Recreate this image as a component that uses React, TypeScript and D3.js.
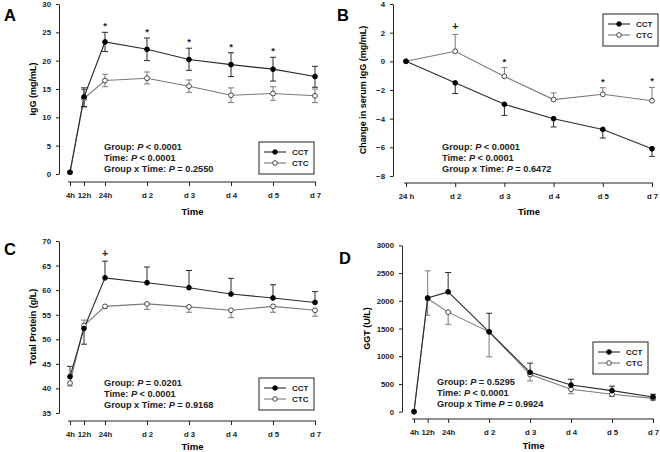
import React, { useEffect, useRef } from 'react';
import * as d3 from 'd3';

// sampling times (hours after birth) and their axis labels
const hoursAll = [4, 12, 24, 48, 72, 96, 120, 144];
const labelsAll = ['4h', '12h', '24h', 'd 2', 'd 3', 'd 4', 'd 5', 'd 7'];
const hoursFrom24 = [24, 48, 72, 96, 120, 144];
const labelsFrom24 = ['24 h', 'd 2', 'd 3', 'd 4', 'd 5', 'd 7'];

// A: serum IgG (mg/mL)
const iggCCT = [0.3, 13.6, 23.3, 22.0, 20.2, 19.3, 18.5, 17.2];
const iggCCTUp = [0, 1.6, 1.7, 2.0, 2.0, 2.1, 2.1, 1.8];
const iggCCTDown = [0, 1.7, 1.7, 2.0, 1.9, 2.1, 2.1, 1.9];
const iggCTC = [0.3, 13.3, 16.5, 16.9, 15.5, 13.9, 14.2, 13.8];
const iggCTCUp = [0, 1.6, 1.1, 1.1, 1.1, 1.3, 1.2, 1.2];
const iggCTCDown = [0, 1.5, 1.1, 1.0, 1.1, 1.3, 1.2, 1.2];
const iggMarks = ['', '', '*', '*', '*', '*', '*', ''];

// B: change in serum IgG from 24 h (mg/mL)
const dIggCCT = [0, -1.5, -3.0, -4.0, -4.75, -6.1];
const dIggCCTUp = [0, 0, 0, 0, 0, 0];
const dIggCCTDown = [0, 0.75, 0.77, 0.58, 0.6, 0.53];
const dIggCTC = [0, 0.7, -1.05, -2.67, -2.3, -2.75];
const dIggCTCUp = [0, 1.18, 0.61, 0.47, 0.46, 0.93];
const dIggCTCDown = [0, 0, 0, 0, 0, 0];
const dIggMarks = ['', '+', '*', '', '*', '*'];

// C: total protein (g/L)
const tpCCT = [42.4, 52.2, 62.5, 61.5, 60.5, 59.2, 58.4, 57.5];
const tpCCTUp = [2.1, 0, 3.4, 3.2, 3.5, 3.2, 2.7, 2.2];
const tpCCTDown = [0, 3.2, 0, 0, 0, 0, 0, 0];
const tpCTC = [41.1, 52.8, 56.7, 57.2, 56.6, 55.9, 56.7, 55.9];
const tpCTCUp = [0, 1.1, 0, 0, 0, 0, 0, 0];
const tpCTCDown = [0.6, 0, 0.3, 1.1, 1.1, 1.5, 1.2, 1.2];
const tpMarks = ['', '', '+', '', '', '', '', ''];

// D: GGT (U/L)
const ggtCCT = [0, 2050, 2160, 1440, 710, 480, 380, 265];
const ggtCCTUp = [0, 0, 350, 335, 165, 105, 80, 50];
const ggtCCTDown = [0, 0, 0, 0, 0, 0, 0, 0];
const ggtCTC = [0, 2040, 1795, 1440, 670, 405, 315, 240];
const ggtCTCUp = [0, 500, 0, 0, 0, 0, 0, 0];
const ggtCTCDown = [0, 300, 220, 450, 115, 80, 40, 30];
const ggtMarks = ['', '', '', '', '', '', '', ''];

const font = "'Liberation Sans', Arial, sans-serif";
const cctColor = '#2b2b2b';
const ctcColor = '#7a7a7a';

interface Series {
  values: number[];
  up: number[];
  down: number[];
}

interface PanelCfg {
  letter: string;
  letterAt: [number, number];
  hours: number[];
  labels: string[];
  xDomain: [number, number];
  xRange: [number, number];
  yDomain: [number, number];
  yRange: [number, number];
  yTickStep: number;
  yAxisX: number;
  xAxisY: number;
  timeY: number;
  yTitle: string;
  yTitleX: number;
  cct: Series;
  ctc: Series;
  marks: string[];
  markOn: 'cct' | 'ctc';
  stats: [string, string, string][];
  statsAt: [number, number];
  legendAt: [number, number];
}

const panels: PanelCfg[] = [
  {
    letter: 'A', letterAt: [4, 21],
    hours: hoursAll, labels: labelsAll,
    xDomain: [4, 144], xRange: [70, 315],
    yDomain: [0, 30], yRange: [174, 4], yTickStep: 5,
    yAxisX: 59, xAxisY: 182, timeY: 215,
    yTitle: 'IgG (mg/mL)', yTitleX: 33,
    cct: { values: iggCCT, up: iggCCTUp, down: iggCCTDown },
    ctc: { values: iggCTC, up: iggCTCUp, down: iggCTCDown },
    marks: iggMarks, markOn: 'cct',
    stats: [['Group: ', 'P', ' < 0.0001'], ['Time: ', 'P', ' < 0.0001'], ['Group x Time: ', 'P', ' = 0.2550']],
    statsAt: [104, 150],
    legendAt: [259, 142],
  },
  {
    letter: 'B', letterAt: [337, 21],
    hours: hoursFrom24, labels: labelsFrom24,
    xDomain: [24, 144], xRange: [406, 652],
    yDomain: [-8, 4], yRange: [176, 4], yTickStep: 2,
    yAxisX: 393, xAxisY: 183, timeY: 215,
    yTitle: 'Change in serum IgG (mg/mL)', yTitleX: 363,
    cct: { values: dIggCCT, up: dIggCCTUp, down: dIggCCTDown },
    ctc: { values: dIggCTC, up: dIggCTCUp, down: dIggCTCDown },
    marks: dIggMarks, markOn: 'ctc',
    stats: [['Group: ', 'P', ' < 0.0001'], ['Time: ', 'P', ' < 0.0001'], ['Group x Time: ', 'P', ' = 0.6472']],
    statsAt: [442, 150],
    legendAt: [603, 14],
  },
  {
    letter: 'C', letterAt: [4, 255],
    hours: hoursAll, labels: labelsAll,
    xDomain: [4, 144], xRange: [70, 315],
    yDomain: [35, 70], yRange: [413, 241], yTickStep: 5,
    yAxisX: 59, xAxisY: 421, timeY: 450,
    yTitle: 'Total Protein (g/L)', yTitleX: 33,
    cct: { values: tpCCT, up: tpCCTUp, down: tpCCTDown },
    ctc: { values: tpCTC, up: tpCTCUp, down: tpCTCDown },
    marks: tpMarks, markOn: 'cct',
    stats: [['Group: ', 'P', ' = 0.0201'], ['Time: ', 'P', ' < 0.0001'], ['Group x Time: ', 'P', ' = 0.9168']],
    statsAt: [104, 386],
    legendAt: [259, 378],
  },
  {
    letter: 'D', letterAt: [339, 264],
    hours: hoursAll, labels: labelsAll,
    xDomain: [4, 144], xRange: [414, 653],
    yDomain: [0, 3000], yRange: [411.7, 245.3], yTickStep: 500,
    yAxisX: 402, xAxisY: 419, timeY: 449,
    yTitle: 'GGT (U/L)', yTitleX: 367,
    cct: { values: ggtCCT, up: ggtCCTUp, down: ggtCCTDown },
    ctc: { values: ggtCTC, up: ggtCTCUp, down: ggtCTCDown },
    marks: ggtMarks, markOn: 'cct',
    stats: [['Group: ', 'P', ' = 0.5295'], ['Time: ', 'P', ' < 0.0001'], ['Group x Time ', 'P', ' = 0.9924']],
    statsAt: [437, 385],
    legendAt: [593, 342],
  },
];

function drawPanel(svg: d3.Selection<SVGSVGElement, unknown, null, undefined>, p: PanelCfg) {
  const g = svg.append('g');
  const x = d3.scaleLinear().domain(p.xDomain).range(p.xRange);
  const y = d3.scaleLinear().domain(p.yDomain).range(p.yRange);

  // panel letter
  g.append('text')
    .attr('x', p.letterAt[0]).attr('y', p.letterAt[1])
    .attr('font-family', font).attr('font-size', 16.5).attr('font-weight', 700)
    .text(p.letter);

  // y axis, detached from the x axis
  const yTicks = d3.range(p.yDomain[0], p.yDomain[1] + p.yTickStep / 2, p.yTickStep);
  const yAxis = g.append('g')
    .attr('transform', `translate(${p.yAxisX},0)`)
    .call(d3.axisLeft(y).tickValues(yTicks).tickSize(3).tickSizeOuter(0).tickPadding(5).tickFormat(d3.format('d')));
  yAxis.select('.domain').attr('stroke', '#222');
  yAxis.selectAll('line').attr('stroke', '#222');
  yAxis.selectAll('text')
    .attr('font-family', font).attr('font-size', 7.8).attr('font-weight', 700).attr('fill', '#222');

  // x axis
  const xAxis = g.append('g')
    .attr('transform', `translate(0,${p.xAxisY})`)
    .call(d3.axisBottom(x).tickValues(p.hours).tickSize(4).tickSizeOuter(0).tickPadding(6)
      .tickFormat((_, i) => p.labels[i]));
  xAxis.select('.domain')
    .attr('stroke', '#222')
    .attr('d', `M${p.xRange[0] - 2},0H${p.xRange[1] + 1}`);
  xAxis.selectAll('line').attr('stroke', '#222');
  xAxis.selectAll('text')
    .attr('font-family', font).attr('font-size', 7.8).attr('font-weight', 700).attr('fill', '#222');

  // axis titles
  g.append('text')
    .attr('x', (p.xRange[0] + p.xRange[1]) / 2).attr('y', p.timeY)
    .attr('text-anchor', 'middle')
    .attr('font-family', font).attr('font-size', 9.5).attr('font-weight', 700)
    .text('Time');
  g.append('text')
    .attr('transform', `translate(${p.yTitleX},${(p.yRange[0] + p.yRange[1]) / 2}) rotate(-90)`)
    .attr('text-anchor', 'middle').attr('dy', '0.35em')
    .attr('font-family', font).attr('font-size', 9).attr('font-weight', 700)
    .text(p.yTitle);

  const series: [Series, string, string][] = [
    [p.ctc, ctcColor, '#fff'],
    [p.cct, cctColor, '#000'],
  ];

  // error bars (one-sided where only one side is shown)
  series.forEach(([s, color]) => {
    s.values.forEach((v, i) => {
      const cx = x(p.hours[i]);
      const ends: number[] = [];
      if (s.up[i] > 0) ends.push(v + s.up[i]);
      if (s.down[i] > 0) ends.push(v - s.down[i]);
      ends.forEach(e => {
        g.append('line')
          .attr('x1', cx).attr('x2', cx).attr('y1', y(v)).attr('y2', y(e))
          .attr('stroke', color).attr('stroke-width', 1);
        g.append('line')
          .attr('x1', cx - 3).attr('x2', cx + 3).attr('y1', y(e)).attr('y2', y(e))
          .attr('stroke', color).attr('stroke-width', 1);
      });
    });
  });

  // lines and markers
  series.forEach(([s, color]) => {
    const line = d3.line<number>()
      .x((_, i) => x(p.hours[i]))
      .y(d => y(d));
    g.append('path')
      .datum(s.values)
      .attr('fill', 'none')
      .attr('stroke', color)
      .attr('stroke-width', 1.1)
      .attr('d', line);
  });
  series.forEach(([s, , fill]) => {
    g.selectAll(null)
      .data(s.values)
      .enter().append('circle')
      .attr('cx', (_, i) => x(p.hours[i]))
      .attr('cy', d => y(d))
      .attr('r', 2.4)
      .attr('fill', fill)
      .attr('stroke', fill === '#fff' ? '#333' : '#000')
      .attr('stroke-width', 0.9);
  });

  // significance marks above the error bar
  const ref = p.markOn === 'cct' ? p.cct : p.ctc;
  p.marks.forEach((m, i) => {
    if (!m) return;
    const top = y(ref.values[i] + ref.up[i]);
    g.append('text')
      .attr('x', x(p.hours[i])).attr('y', m === '*' ? top - 3 : top - 4)
      .attr('text-anchor', 'middle')
      .attr('font-family', font)
      .attr('font-size', m === '*' ? 9.5 : 10.5)
      .attr('font-weight', 700)
      .attr('fill', '#222')
      .text(m);
  });

  // ANOVA summary
  p.stats.forEach((parts, i) => {
    const t = g.append('text')
      .attr('x', p.statsAt[0]).attr('y', p.statsAt[1] + i * 11)
      .attr('font-family', font).attr('font-size', 9.2).attr('font-weight', 700)
      .attr('fill', '#222');
    t.append('tspan').text(parts[0]);
    t.append('tspan').attr('font-style', 'italic').text(parts[1]);
    t.append('tspan').text(parts[2]);
  });

  // legend
  const [lx, ly] = p.legendAt;
  const lg = g.append('g').attr('transform', `translate(${lx},${ly})`);
  lg.append('rect')
    .attr('width', 55).attr('height', 32)
    .attr('fill', '#fff').attr('stroke', '#333').attr('stroke-width', 1.1);
  [['CCT', cctColor, '#000'], ['CTC', ctcColor, '#fff']].forEach(([name, color, fill], i) => {
    const yy = 10 + i * 11;
    lg.append('line')
      .attr('x1', 5).attr('x2', 27).attr('y1', yy).attr('y2', yy)
      .attr('stroke', color).attr('stroke-width', 1.1);
    lg.append('circle')
      .attr('cx', 16).attr('cy', yy).attr('r', 2.3)
      .attr('fill', fill).attr('stroke', fill === '#fff' ? '#333' : '#000').attr('stroke-width', 0.9);
    lg.append('text')
      .attr('x', 33).attr('y', yy + 3)
      .attr('font-family', font).attr('font-size', 8).attr('font-weight', 700)
      .attr('fill', '#222')
      .text(name);
  });
}

const App: React.FC = () => {
  const svgRef = useRef<SVGSVGElement>(null);

  useEffect(() => {
    if (!svgRef.current) return;
    const svg = d3.select(svgRef.current);
    svg.selectAll('*').remove();
    svg.append('rect').attr('width', 660).attr('height', 452).attr('fill', '#fff');
    panels.forEach(p => drawPanel(svg, p));
  }, []);

  return (
    <svg
      ref={svgRef}
      width={660}
      height={452}
      viewBox="0 0 660 452"
      style={{ position: 'absolute', left: 0, top: 0, display: 'block' }}
    />
  );
};

export default App;
